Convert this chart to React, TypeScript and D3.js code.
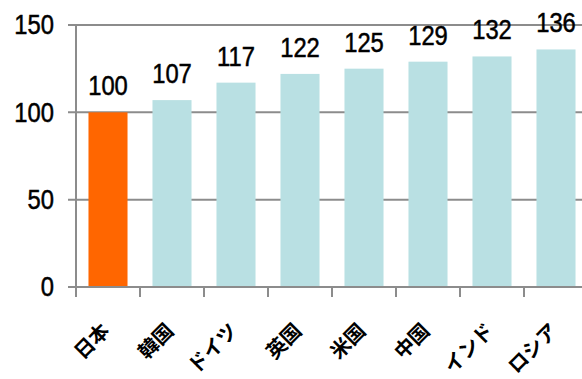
import React from "react";
import * as d3 from "d3";

// Index values by country (Japan = 100)
const categories = ["日本", "韓国", "ドイツ", "英国", "米国", "中国", "インド", "ロシア"];
const values = [100, 107, 117, 122, 125, 129, 132, 136];
const yTicks = [0, 50, 100, 150];
const highlight = "日本";

const W = 582;
const H = 379;
const left = 76;
const y0 = 287;
const yTop = 25;

const COLOR_HI = "#FF6600";
const COLOR_BAR = "#B9E0E3";
const AXIS = "#8C8C8C";

export default function App() {
  const x = d3
    .scaleBand<string>()
    .domain(categories)
    .range([left, left + 64 * categories.length])
    .paddingInner(0.39)
    .paddingOuter(0.195);
  const y = d3.scaleLinear().domain([0, 150]).range([y0, yTop]);
  const step = x.step();

  return (
    <svg
      width={W}
      height={H}
      style={{ position: "absolute", left: 0, top: 0 }}
      fontFamily="'Liberation Sans', Arial, sans-serif"
    >
      <rect width={W} height={H} fill="#fff" />
      {/* gridlines + y ticks */}
      {yTicks.map((t) => (
        <g key={t}>
          <line x1={68} x2={W} y1={y(t)} y2={y(t)} stroke={AXIS} strokeWidth={2} />
          <text
            x={54}
            y={y(t) + 9.5}
            textAnchor="end"
            fontSize={27}
            stroke="#000"
            strokeWidth={0.5}
            transform={`translate(54,0) scale(0.88,1) translate(-54,0)`}
            fill="#000"
          >
            {t}
          </text>
        </g>
      ))}
      {/* bars */}
      {categories.map((c, i) => (
        <rect
          key={c}
          x={x(c)}
          y={y(values[i])}
          width={x.bandwidth()}
          height={y0 - y(values[i])}
          fill={c === highlight ? COLOR_HI : COLOR_BAR}
        />
      ))}
      {/* axes */}
      <line x1={left} x2={left} y1={yTop - 1} y2={y0 + 1} stroke={AXIS} strokeWidth={2} />
      <line x1={68} x2={W} y1={y0} y2={y0} stroke={AXIS} strokeWidth={2} />
      {categories.map((c, i) => (
        <line
          key={"t" + c}
          x1={left + step * i}
          x2={left + step * i}
          y1={y0}
          y2={y0 + 10}
          stroke={AXIS}
          strokeWidth={2}
        />
      ))}
      {/* value labels */}
      {categories.map((c, i) => {
        const cx = (x(c) as number) + x.bandwidth() / 2;
        return (
          <text
            key={"v" + c}
            x={cx}
            y={y(values[i]) - 17}
            textAnchor="middle"
            fontSize={27}
            stroke="#000"
            strokeWidth={0.5}
            transform={`translate(${cx},0) scale(0.88,1) translate(${-cx},0)`}
            fill="#000"
          >
            {values[i]}
          </text>
        );
      })}
      {/* category labels */}
      {categories.map((c) => {
        const cx = (x(c) as number) + x.bandwidth() / 2 + 3;
        const cy = 332;
        return (
          <text
            key={"c" + c}
            x={cx}
            y={cy}
            textAnchor="end"
            fontSize={20}
            fontWeight="bold"
            fontFamily="'Noto Sans CJK JP', sans-serif"
            transform={`rotate(-45,${cx},${cy})`}
            fill="#000"
          >
            {c}
          </text>
        );
      })}
    </svg>
  );
}
